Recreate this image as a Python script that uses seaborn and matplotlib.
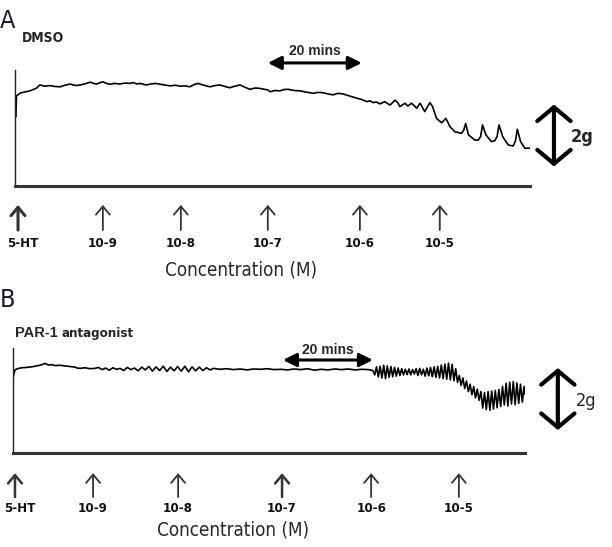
import matplotlib
matplotlib.use("Agg")
import matplotlib.pyplot as plt
import matplotlib.font_manager as fm
import seaborn as sns
import pandas as pd

# ---------------- data ----------------
# Panel A (DMSO): time in minutes, tension in g
a_time = [0.2, 0.3, 1.1, 2.0, 3.2, 4.0, 4.6, 5.3, 6.3, 7.5,
          8.5, 9.6, 10.6, 11.7, 12.4, 13.1, 14.2, 15.0, 16.0, 16.7,
          17.4, 18.0, 18.7, 19.5, 20.2, 21.2, 22.3, 23.4, 24.5, 25.2,
          25.9, 26.6, 27.3, 28.0, 28.9, 29.8, 31.4, 33.0, 34.1, 35.2,
          36.2, 37.2, 38.1, 38.9, 40.2, 41.5, 42.6, 43.6, 44.7, 45.7,
          46.8, 47.9, 49.0, 50.0, 51.1, 52.1, 53.0, 53.8, 54.3, 55.3,
          56.4, 57.2, 58.1, 59.4, 60.6, 62.0, 63.4, 64.5, 65.5, 66.6,
          67.7, 68.7, 69.8, 71.3, 72.8, 73.8, 74.9, 75.5, 76.2, 76.9,
          77.7, 78.7, 79.8, 80.9, 81.5, 81.9, 83.0, 83.6, 84.4, 85.5,
          86.2, 87.2, 88.3, 88.9, 89.7, 90.8, 91.7, 92.6, 93.6, 95.0,
          95.5, 95.9, 96.5, 97.9, 98.6, 99.1, 99.5, 100.2, 101.4, 102.1,
          102.6, 103.0, 103.8, 105.0, 106.0, 106.5, 106.9, 107.6, 108.5, 109.6]
a_tension = [2.23, 2.90, 3.00, 3.03, 3.07, 3.12, 3.16, 3.26, 3.22, 3.24,
             3.21, 3.20, 3.25, 3.29, 3.26, 3.24, 3.27, 3.30, 3.35, 3.31,
             3.29, 3.33, 3.36, 3.31, 3.28, 3.31, 3.29, 3.32, 3.31, 3.34,
             3.29, 3.31, 3.28, 3.26, 3.29, 3.31, 3.27, 3.23, 3.25, 3.22,
             3.23, 3.20, 3.27, 3.31, 3.25, 3.20, 3.24, 3.26, 3.21, 3.17,
             3.22, 3.26, 3.18, 3.12, 3.16, 3.15, 3.12, 3.10, 3.04, 3.08,
             3.07, 3.11, 3.12, 3.08, 3.07, 3.03, 2.99, 3.02, 3.01, 2.97,
             2.94, 2.99, 2.97, 2.90, 2.83, 2.79, 2.72, 2.75, 2.69, 2.71,
             2.65, 2.72, 2.61, 2.77, 2.68, 2.56, 2.67, 2.58, 2.67, 2.51,
             2.67, 2.40, 2.69, 2.55, 2.18, 2.04, 2.18, 1.91, 1.75, 1.70,
             1.80, 2.02, 1.65, 1.48, 1.48, 1.60, 1.97, 1.65, 1.43, 1.46,
             1.60, 1.97, 1.59, 1.32, 1.29, 1.45, 1.83, 1.43, 1.22, 1.22]

# Panel B (PAR-1 antagonist)
b_time = [0.0, 0.2, 0.44, 1.0, 1.93, 3.0, 4.16, 5.62, 6.44, 7.11,
          7.84, 8.6, 9.33, 10.4, 11.56, 12.6, 13.78, 14.3, 14.89, 16.0,
          17.1, 18.22, 19.0, 19.8, 20.6, 21.4, 22.2, 23.0, 23.8, 24.6,
          25.4, 26.2, 27.0, 27.8, 28.6, 29.4, 30.2, 31.0, 31.8, 32.6,
          33.4, 34.2, 35.0, 35.8, 36.6, 37.4, 38.2, 39.0, 39.8, 40.6,
          41.4, 42.2, 43.0, 43.8, 44.6, 46.0, 47.5, 49.0, 50.5, 52.0,
          53.5, 55.0, 56.5, 58.0, 59.5, 61.0, 62.5, 64.0, 65.5, 67.0,
          68.5, 70.0, 71.5, 73.0, 74.5, 76.0, 77.5, 79.0, 80.0, 80.4,
          80.8, 81.2, 81.6, 82.0, 82.4, 82.8, 83.2, 83.6, 84.0, 84.4,
          84.8, 85.2, 85.6, 86.0, 86.4, 86.8, 87.2, 87.6, 88.0, 88.4,
          88.8, 89.2, 89.6, 90.0, 90.4, 90.8, 91.2, 91.6, 92.0, 92.4,
          92.8, 93.2, 93.6, 94.0, 94.4, 94.8, 95.2, 95.6, 96.0, 96.4,
          96.8, 97.2, 97.6, 98.0, 98.4, 98.8, 99.2, 99.6, 100.0, 100.4,
          100.8, 101.2, 101.6, 102.0, 102.4, 102.8, 103.2, 103.6, 104.0, 104.4,
          104.8, 105.2, 105.6, 106.0, 106.4, 106.8, 107.2, 107.6, 108.0, 108.4,
          108.8, 109.2, 109.6, 110.0, 110.4, 110.8, 111.2, 111.6, 112.0, 112.4,
          112.8, 113.2, 113.6, 113.8]
b_tension = [2.42, 2.55, 2.68, 2.72, 2.75, 2.76, 2.78, 2.82, 2.85, 2.89,
             2.84, 2.85, 2.82, 2.83, 2.81, 2.79, 2.77, 2.74, 2.73, 2.75,
             2.72, 2.73, 2.76, 2.69, 2.74, 2.67, 2.75, 2.70, 2.73, 2.66,
             2.76, 2.69, 2.74, 2.65, 2.77, 2.68, 2.79, 2.64, 2.78, 2.66,
             2.80, 2.63, 2.77, 2.65, 2.79, 2.64, 2.80, 2.62, 2.78, 2.65,
             2.77, 2.66, 2.75, 2.68, 2.73, 2.70, 2.72, 2.69, 2.71, 2.68,
             2.71, 2.70, 2.72, 2.69, 2.70, 2.68, 2.71, 2.69, 2.72, 2.67,
             2.70, 2.68, 2.71, 2.69, 2.71, 2.68, 2.70, 2.69, 2.66, 2.52,
             2.78, 2.45, 2.80, 2.42, 2.83, 2.40, 2.81, 2.44, 2.79, 2.46,
             2.76, 2.48, 2.74, 2.50, 2.72, 2.52, 2.70, 2.53, 2.71, 2.52,
             2.69, 2.55, 2.72, 2.50, 2.73, 2.52, 2.70, 2.48, 2.74, 2.49,
             2.76, 2.46, 2.78, 2.44, 2.80, 2.42, 2.84, 2.40, 2.87, 2.38,
             2.90, 2.36, 2.86, 2.33, 2.72, 2.28, 2.50, 2.18, 2.42, 2.08,
             2.32, 1.98, 2.22, 1.88, 2.14, 1.78, 2.06, 1.70, 1.98, 1.45,
             1.95, 1.40, 1.98, 1.38, 2.00, 1.42, 2.02, 1.46, 2.05, 1.50,
             2.15, 1.55, 2.25, 1.52, 2.28, 1.58, 2.30, 1.56, 2.26, 1.60,
             2.22, 1.64, 2.15, 1.90]

additions = ["5-HT", "10-9", "10-8", "10-7", "10-6", "10-5"]
a_add_time = [0.64, 18.7, 35.3, 53.8, 73.4, 90.4]
b_add_time = [0.44, 17.8, 36.7, 59.8, 79.6, 99.1]

# ---------------- fonts ----------------
def find_condensed(bold):
    cands = []
    for f in fm.fontManager.ttflist:
        fn = f.fname.lower()
        if ("narrow" in fn or "condensed" in fn) and "oblique" not in fn and "italic" not in fn:
            is_bold = ("bold" in fn) or (isinstance(f.weight, int) and f.weight >= 600) or f.weight == "bold"
            if is_bold == bold:
                pref = 0 if "liberation" in fn else (1 if "dejavu" in fn else 2)
                cands.append((pref, f.fname))
    cands.sort()
    return cands[0][1] if cands else None

NARROW_R = find_condensed(False)
NARROW_B = find_condensed(True)

def narrow(size, bold=False):
    fname = NARROW_B if bold else NARROW_R
    if fname is None:
        return fm.FontProperties(family="DejaVu Sans", size=size,
                                 weight="bold" if bold else "normal", stretch="condensed")
    return fm.FontProperties(fname=fname, size=size)

sns.set_style("white")
plt.rcParams["font.family"] = ["Liberation Sans", "DejaVu Sans"]

W, H = 612, 547
fig = plt.figure(figsize=(W / 100, H / 100), dpi=100)
fig.patch.set_facecolor("white")

def ftext(px, py, s, **kw):
    fig.text(px / W, 1 - py / H, s, **kw)

PXG = 31.0  # pixels per g

axA = fig.add_axes([15 / W, 1 - 186 / H, 515 / W, 116 / H])
axB = fig.add_axes([13 / W, 1 - 453 / H, 512 / W, 105 / H])

label_shift_px = [5, 0, 0, 0, 0, 0]

panels = [
    (axA, a_time, a_tension, 109.6, 116 / PXG, a_add_time,
     (53.8, 73.8, 3.97, 4.35), (114.7, 0.63, 2.63), [2.2, 1.3, 1.3, 1.3, 1.3, 1.3],
     (-0.61, -1.42, -1.84)),
    (axB, b_time, b_tension, 113.8, 105 / PXG, b_add_time,
     (60.0, 80.0, 3.0, 3.33), (121.1, 0.74, 2.74), [1.8, 1.3, 1.3, 1.8, 1.3, 1.3],
     (-0.65, -1.42, -1.79)),
]

for ax, t, g, xmax, ymax, add_t, bar20, bar2g, lws, ypos in panels:
    df = pd.DataFrame({"time": t, "tension": g})
    sns.lineplot(data=df, x="time", y="tension", ax=ax, color="black",
                 lw=1.2, sort=False, estimator=None)
    ax.set_xlim(0, xmax)
    ax.set_ylim(0, ymax)
    ax.set_xticks([])
    ax.set_yticks([])
    ax.set_xlabel("")
    ax.set_ylabel("")
    ax.patch.set_alpha(0)
    for s in ["top", "right"]:
        ax.spines[s].set_visible(False)
    ax.spines["left"].set_linewidth(1.0)
    ax.spines["left"].set_color("#222222")
    ax.spines["bottom"].set_linewidth(2.2)
    ax.spines["bottom"].set_color("#333333")

    # addition arrows + labels
    tip, tail, lab = ypos
    for tt, name, lw, sh in zip(add_t, additions, lws, label_shift_px):
        ax.annotate("", xy=(tt, tip), xytext=(tt, tail), annotation_clip=False,
                    arrowprops=dict(arrowstyle="->,head_length=0.3,head_width=0.25",
                                    lw=lw, color="#333333", mutation_scale=20,
                                    shrinkA=0, shrinkB=0))
        ax.annotate(name, xy=(tt, lab), xytext=(sh * 0.72, 0), textcoords="offset points",
                    ha="center", va="center", fontproperties=narrow(9.5, True),
                    color="#111111", annotation_clip=False)

    # 20 mins time bar
    x0, x1, yb, yt = bar20
    ax.annotate("", xy=(x1, yb), xytext=(x0, yb), annotation_clip=False,
                arrowprops=dict(arrowstyle="<|-|>,head_length=0.4,head_width=0.2",
                                lw=2.2, color="black", mutation_scale=20,
                                shrinkA=0, shrinkB=0))
    ax.text((x0 + x1) / 2, yt, "20 mins", ha="center", va="center",
            fontsize=10, fontweight="bold", clip_on=False)

    # 2 g scale bar
    xs, y0, y1 = bar2g
    ax.annotate("", xy=(xs, y1), xytext=(xs, y0), annotation_clip=False,
                arrowprops=dict(arrowstyle="<->,head_length=0.5,head_width=0.6",
                                lw=3.0, color="black", mutation_scale=20,
                                shrinkA=0, shrinkB=0))

# static labels
ftext(8, 21, "A", ha="center", va="center", fontproperties=narrow(18), color="#1a1a2a")
ftext(22, 38, "DMSO", ha="left", va="center", fontproperties=narrow(10, True))
ftext(8, 300, "B", ha="center", va="center", fontproperties=narrow(18), color="#1a1a2a")
ftext(15, 333, "PAR-1", ha="left", va="center", fontsize=10.5, fontweight="bold")
ftext(61, 334, "antagonist", ha="left", va="center", fontproperties=narrow(9.5, True))
ftext(241, 270, "Concentration (M)", ha="center", va="center", fontproperties=narrow(13.5), color="#2b2433")
ftext(233, 530, "Concentration (M)", ha="center", va="center", fontproperties=narrow(13.5), color="#2b2433")
ftext(582, 137, "2g", ha="center", va="center", fontproperties=narrow(13, True))
ftext(586, 401, "2g", ha="center", va="center", fontproperties=narrow(13))

fig.savefig("out.png", dpi=100, facecolor="white")
